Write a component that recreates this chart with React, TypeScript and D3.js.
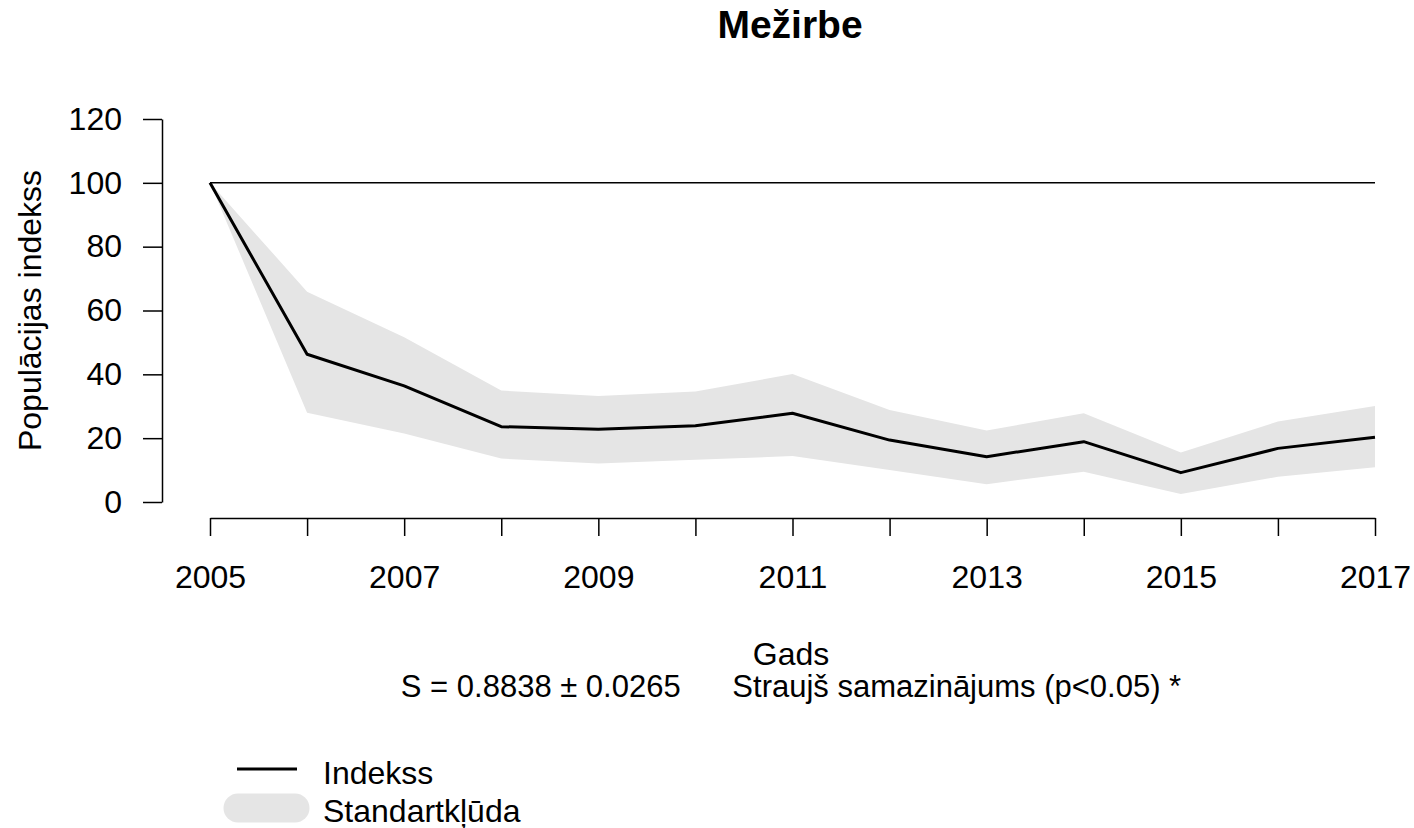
import { useEffect, useRef } from 'react'
import * as d3 from 'd3'

const years = [2005, 2006, 2007, 2008, 2009, 2010, 2011, 2012, 2013, 2014, 2015, 2016, 2017]
const indexValues = [100, 46.3, 36.4, 23.6, 22.8, 23.9, 27.8, 19.4, 14.2, 18.9, 9.2, 16.8, 20.3]
const upperValues = [100, 65.9, 51.6, 34.9, 33.2, 34.6, 40.1, 28.8, 22.4, 27.8, 15.5, 25.2, 30.1]
const lowerValues = [100, 28.0, 21.5, 13.6, 12.1, 13.2, 14.4, 10.0, 5.6, 9.5, 2.5, 7.9, 10.9]
const yTicks = [0, 20, 40, 60, 80, 100, 120]
const xLabelYears = [2005, 2007, 2009, 2011, 2013, 2015, 2017]

const FONT = 'Liberation Sans, Arial, sans-serif'
const FS = '32px'

export default function App() {
  const svgRef = useRef<SVGSVGElement | null>(null)

  useEffect(() => {
    if (!svgRef.current) return
    const svg = d3.select(svgRef.current)
    svg.selectAll('*').remove()

    const x = d3.scaleLinear().domain([2005, 2017]).range([210, 1375])
    const y = d3.scaleLinear().domain([0, 120]).range([502, 119])

    const data = years.map((yr, i) => ({
      year: yr,
      value: indexValues[i],
      upper: upperValues[i],
      lower: lowerValues[i]
    }))

    // Title
    svg.append('text')
      .attr('x', 790)
      .attr('y', 38)
      .attr('text-anchor', 'middle')
      .style('font-family', FONT)
      .style('font-weight', 'bold')
      .style('font-size', '39px')
      .text('Mežirbe')

    // Standard error band
    const area = d3.area<any>()
      .x(d => x(d.year))
      .y0(d => y(d.lower))
      .y1(d => y(d.upper))

    svg.append('path')
      .datum(data)
      .attr('fill', '#e5e5e5')
      .attr('d', area)

    // Reference line at 100
    svg.append('line')
      .attr('x1', x(2005))
      .attr('x2', x(2017))
      .attr('y1', y(100))
      .attr('y2', y(100))
      .attr('stroke', '#000')
      .attr('stroke-width', 1.5)

    // Index line
    const line = d3.line<any>()
      .x(d => x(d.year))
      .y(d => y(d.value))

    svg.append('path')
      .datum(data)
      .attr('fill', 'none')
      .attr('stroke', '#000')
      .attr('stroke-width', 3)
      .attr('stroke-linejoin', 'round')
      .attr('d', line)

    // Y axis
    const yAxis = svg.append('g')
      .attr('transform', 'translate(162,0)')
      .call(d3.axisLeft(y).tickValues(yTicks).tickSize(19).tickSizeOuter(0).tickPadding(21))
    yAxis.select('.domain').attr('stroke-width', 1.5)
    yAxis.selectAll('.tick line').attr('stroke-width', 1.5)
    yAxis.selectAll('.tick text')
      .style('font-family', FONT)
      .style('font-size', FS)
      .attr('fill', '#000')

    // X axis
    const xAxis = svg.append('g')
      .attr('transform', 'translate(0,518)')
      .call(d3.axisBottom(x).tickValues(years).tickSize(18).tickSizeOuter(0).tickPadding(29)
        .tickFormat((d: any) => xLabelYears.includes(+d) ? String(d) : ''))
    xAxis.select('.domain').attr('stroke-width', 1.5)
    xAxis.selectAll('.tick line').attr('stroke-width', 1.5)
    xAxis.selectAll('.tick text')
      .style('font-family', FONT)
      .style('font-size', FS)
      .attr('fill', '#000')

    // Axis titles
    svg.append('text')
      .attr('transform', `translate(41,${(119 + 502) / 2}) rotate(-90)`)
      .attr('text-anchor', 'middle')
      .style('font-family', FONT)
      .style('font-size', FS)
      .text('Populācijas indekss')

    svg.append('text')
      .attr('x', 791)
      .attr('y', 665)
      .attr('text-anchor', 'middle')
      .style('font-family', FONT)
      .style('font-size', FS)
      .text('Gads')

    svg.append('text')
      .attr('x', 791)
      .attr('y', 697)
      .attr('text-anchor', 'middle')
      .attr('xml:space', 'preserve')
      .style('font-family', FONT)
      .style('font-size', '31px')
      .style('white-space', 'pre')
      .text('S = 0.8838 ± 0.0265      Straujš samazinājums (p<0.05) *')

    // Legend
    const legend = svg.append('g')
    legend.append('line')
      .attr('x1', 237).attr('x2', 297)
      .attr('y1', 769).attr('y2', 769)
      .attr('stroke', '#000')
      .attr('stroke-width', 3)
    legend.append('text')
      .attr('x', 323).attr('y', 784)
      .style('font-family', FONT)
      .style('font-size', FS)
      .text('Indekss')
    legend.append('line')
      .attr('x1', 238).attr('x2', 295)
      .attr('y1', 808).attr('y2', 808)
      .attr('stroke', '#e5e5e5')
      .attr('stroke-width', 29)
      .attr('stroke-linecap', 'round')
    legend.append('text')
      .attr('x', 323).attr('y', 822)
      .style('font-family', FONT)
      .style('font-size', FS)
      .text('Standartkļūda')
  }, [])

  return (
    <svg
      ref={svgRef}
      width={1414}
      height={828}
      style={{ position: 'absolute', left: 0, top: 0, background: '#fff' }}
    />
  )
}
